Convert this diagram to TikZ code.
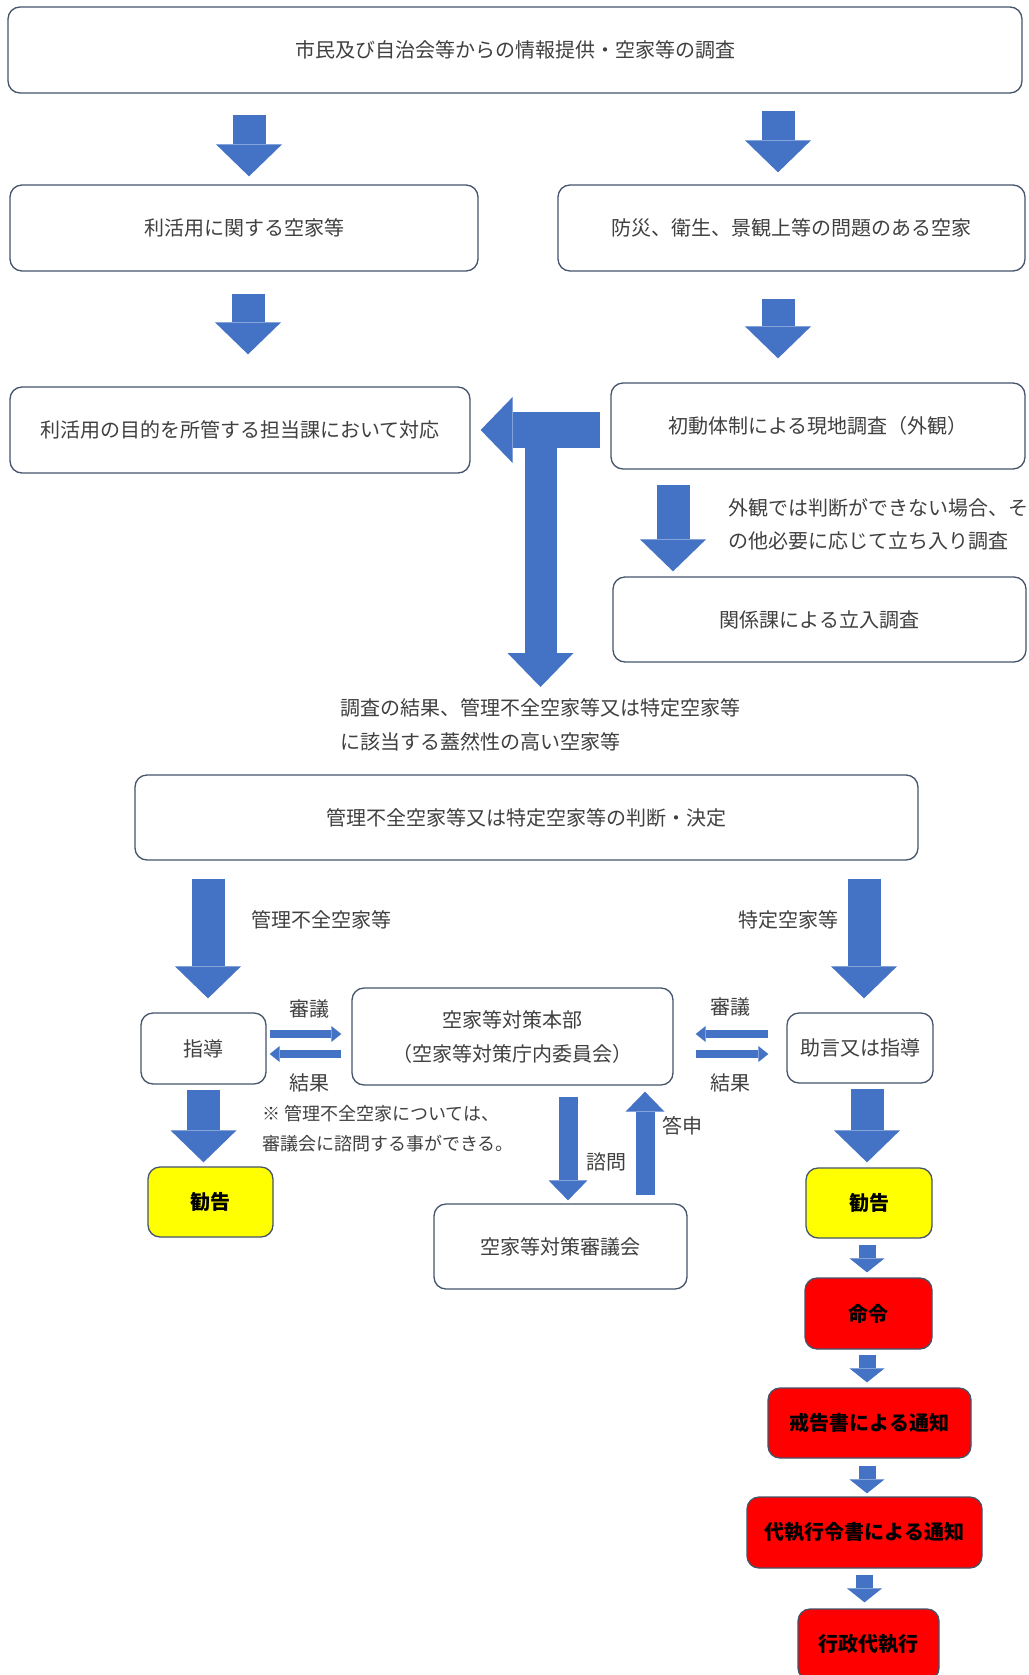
\documentclass[tikz,border=0pt]{standalone}
\usepackage{fontspec}
\newfontfamily\jp{Noto Sans CJK JP}
\usetikzlibrary{positioning,calc,arrows.meta}
\definecolor{arw}{HTML}{4472C4}
\definecolor{bdr}{HTML}{44546A}
\definecolor{txt}{HTML}{404040}
\definecolor{yel}{HTML}{FFFF00}
\definecolor{rd}{HTML}{FF0000}

\begin{document}
\begin{tikzpicture}[x=1pt, y=-1pt,
  main/.style = {draw=bdr, line width=1.3pt, rounded corners=12pt, fill=white, text=txt, inner sep=0, align=center, font=\jp\fontsize{20}{34}\selectfont},
  warn/.style = {main, fill=#1, text=black, font=\jp\bfseries\fontsize{20}{34}\selectfont},
  lbl/.style = {text=txt, inner sep=0, align=left, font=\jp\fontsize{20}{34}\selectfont},
  fat/.style = {arw, line width=33pt, -{Triangle[width=66pt,length=32pt,line width=0pt]}},
  mid/.style = {arw, line width=19pt, -{Triangle[width=39pt,length=20pt,line width=0pt]}},
  small/.style = {arw, line width=17pt, -{Triangle[width=35pt,length=14pt,line width=0pt]}},
  thin/.style = {arw, line width=8pt, -{Triangle[width=16pt,length=10pt,line width=0pt]}}]
  \path[use as bounding box, fill=white] (0,0) rectangle (1028,1675);

  \node[main, minimum width=1014pt, minimum height=86pt] (1) at (515,50) {市民及び自治会等からの情報提供・空家等の調査};
  \node[main, minimum width=468pt, minimum height=86pt] (2) at (244,228) {利活用に関する空家等};
  \node[main, minimum width=467pt, minimum height=86pt] (3) at (791.5,228) {防災、衛生、景観上等の問題のある空家};
  \node[main, minimum width=460pt, minimum height=86pt] (4) at (240,430) {利活用の目的を所管する担当課において対応};
  \node[main, minimum width=414pt, minimum height=86pt] (5) at (818,426) {初動体制による現地調査（外観）};
  \node[main, minimum width=413pt, minimum height=85pt] (6) at (819.5,619.5) {関係課による立入調査};
  \node[main, minimum width=783pt, minimum height=85pt] (7) at (526.5,817.5) {管理不全空家等又は特定空家等の判断・決定};
  \node[main, minimum width=125pt, minimum height=71pt] (8) at (203.5,1048.5) {指導};
  \node[main, minimum width=321pt, minimum height=97pt] (9) at (512.5,1036.5) {空家等対策本部\\（空家等対策庁内委員会）};
  \node[main, minimum width=146pt, minimum height=70pt] (10) at (860,1048) {助言又は指導};
  \node[warn=yel, minimum width=125pt, minimum height=70pt] (11) at (210.5,1202) {勧告};
  \node[main, minimum width=253pt, minimum height=85pt] (12) at (560.5,1246.5) {空家等対策審議会};
  \node[warn=yel, minimum width=126pt, minimum height=70pt] (13) at (869,1203) {勧告};
  \node[warn=rd, minimum width=127pt, minimum height=71pt] (14) at (868.5,1313.5) {命令};
  \node[warn=rd, minimum width=203pt, minimum height=70pt] (15) at (869.5,1423) {戒告書による通知};
  \node[warn=rd, minimum width=235pt, minimum height=71pt] (16) at (864.5,1532.5) {代執行令書による通知};
  \node[warn=rd, minimum width=141pt, minimum height=71pt] (17) at (868.5,1644.5) {行政代執行};

  \node[lbl, anchor=north west] (18) at (340,698) {調査の結果、管理不全空家等又は特定空家等\\に該当する蓋然性の高い空家等};
  \node[lbl, anchor=north west, font=\jp\fontsize{20}{33}\selectfont] (19) at (728,498) {外観では判断ができない場合、そ\\の他必要に応じて立ち入り調査};
  \node[lbl, anchor=north west, font=\jp\fontsize{18}{30}\selectfont] (20) at (262,1105) {※ 管理不全空家については、\\審議会に諮問する事ができる。};

  \draw[fat, shorten <=21pt, shorten >=8pt] ($(2.north |- 1.south)+(5,0)$) -- ($(2.north)+(5,0)$);
  \draw[fat, shorten <=17pt, shorten >=12pt] ($(3.north |- 1.south)+(-13.5,0)$) -- ($(3.north)+(-13.5,0)$);
  \draw[fat, shorten <=22pt, shorten >=32pt] ($(2.south)+(4,0)$) -- ($(2.south |- 4.north)+(4,0)$);
  \draw[fat, shorten <=27pt, shorten >=24pt] ($(3.south)+(-13.5,0)$) -- ($(3.south |- 5.north)+(-13.5,0)$);

  \draw[arw, line width=36pt, -{Triangle[width=66pt,length=32pt,line width=0pt]}, shorten <=10pt, shorten >=10pt] (4.east -| 5.west) -- (4.east);
  \coordinate (t) at ($(4.east)!.5!(4.east -| 5.west)$);
  \draw[arw, line width=32pt, -{Triangle[width=66pt,length=34pt,line width=0pt]}, shorten >=11pt] (t) -- (t |- 18.north);

  \draw[fat, shorten <=15pt, shorten >=5pt] ($(5.south)+(-145,0)$) -- ($(5.south |- 6.north)+(-145,0)$);

  \draw[fat, shorten <=18pt, shorten >=14pt] ($(8.north |- 7.south)+(4.5,0)$) to node[lbl, right=27pt, pos=.39]{管理不全空家等} ($(8.north)+(4.5,0)$);
  \draw[fat, shorten <=18pt, shorten >=14pt] ($(10.north |- 7.south)+(4,0)$) to node[lbl, left=9pt, pos=.39]{特定空家等} ($(10.north)+(4,0)$);

  \draw[thin, shorten <=3pt, shorten >=10pt] ($(8.east)+(0,-14.5)$) to node[lbl, above=12pt]{審議} ($(8.east -| 9.west)+(0,-14.5)$);
  \draw[thin, shorten <=10pt, shorten >=3pt] ($(8.east -| 9.west)+(0,5.5)$) to node[lbl, below=16pt]{結果} ($(8.east)+(0,5.5)$);
  \draw[thin, shorten <=18pt, shorten >=22pt] ($(10.west)+(0,-14)$) to node[lbl, above=14pt]{審議} ($(10.west -| 9.east)+(0,-14)$);
  \draw[thin, shorten <=22pt, shorten >=18pt] ($(10.west -| 9.east)+(0,6)$) to node[lbl, below=16pt]{結果} ($(10.west)+(0,6)$);

  \draw[fat, shorten <=5pt, shorten >=4pt] (8.south) -- (8.south |- 11.north);
  \draw[mid, shorten <=11pt, shorten >=3pt] ($(12.north |- 9.south)+(7.5,0)$) to node[lbl, right=9pt, pos=.65]{諮問} ($(12.north)+(7.5,0)$);
  \draw[mid, shorten <=8pt, shorten >=6pt] ($(12.north)+(84.5,0)$) to node[lbl, right=8pt, pos=.66]{答申} ($(12.north |- 9.south)+(84.5,0)$);

  \draw[fat, shorten <=5pt, shorten >=5pt] ($(10.south)+(7,0)$) -- ($(10.south |- 13.north)+(7,0)$);
  \draw[small, shorten <=6pt, shorten >=5pt] ($(13.south)+(-2,0)$) -- ($(13.south |- 14.north)+(-2,0)$);
  \draw[small, shorten <=5pt, shorten >=5pt] ($(14.south)+(-1.5,0)$) -- ($(14.south |- 15.north)+(-1.5,0)$);
  \draw[small, shorten <=7pt, shorten >=3pt] ($(15.south)+(-2.5,0)$) -- ($(15.south |- 16.north)+(-2.5,0)$);
  \draw[small, shorten <=6pt, shorten >=6pt] (16.south) -- (16.south |- 17.north);
\end{tikzpicture}
\end{document}
